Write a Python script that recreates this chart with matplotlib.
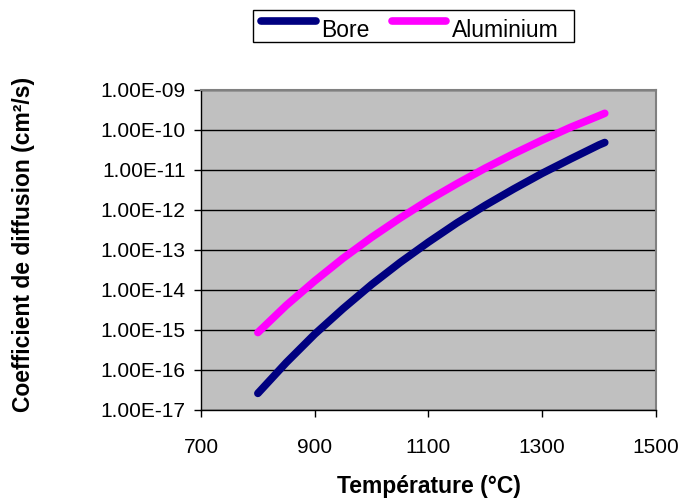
import matplotlib
matplotlib.use("Agg")
import matplotlib.pyplot as plt
from matplotlib.ticker import FixedLocator, FuncFormatter, NullLocator
from matplotlib.lines import Line2D
from matplotlib.patches import Rectangle

plt.rcParams['font.family'] = ['Liberation Sans', 'DejaVu Sans']

# temperatures (°C) and log10 of the diffusion coefficient (cm²/s)
temperature = [800, 850, 900, 950, 1000, 1050, 1100, 1150, 1200, 1250, 1300, 1350, 1400, 1410]
log_d_bore = [-16.59, -15.82, -15.11, -14.47, -13.87, -13.32, -12.81, -12.33,
              -11.89, -11.48, -11.09, -10.73, -10.38, -10.32]
log_d_alu = [-15.07, -14.39, -13.78, -13.21, -12.69, -12.21, -11.76, -11.35,
             -10.96, -10.60, -10.26, -9.94, -9.65, -9.59]

series_names = ["Bore", "Aluminium"]
series_colors = ["#000080", "#FF00FF"]
x_ticks = [700, 900, 1100, 1300, 1500]
y_ticks = [1e-17, 1e-16, 1e-15, 1e-14, 1e-13, 1e-12, 1e-11, 1e-10, 1e-9]

W, H = 680, 504
fig = plt.figure(figsize=(W / 100, H / 100), dpi=100)
ax = fig.add_axes([0.2956, 0.187, 0.669, 0.635])
ax.set_facecolor("#C0C0C0")

for logs, name, col in zip([log_d_bore, log_d_alu], series_names, series_colors):
    vals = [10 ** v for v in logs]
    ax.plot(temperature, vals, color=col, lw=5.5, solid_capstyle='round',
            solid_joinstyle='round', label=name, zorder=3)

ax.set_yscale("log")
ax.set_xlim(700, 1500)
ax.set_ylim(1e-17, 1e-9)
ax.xaxis.set_major_locator(FixedLocator(x_ticks))
ax.yaxis.set_major_locator(FixedLocator(y_ticks))
ax.yaxis.set_minor_locator(NullLocator())
ax.yaxis.set_major_formatter(FuncFormatter(lambda v, p: f"{v:.2E}"))
ax.grid(axis='y', color='black', lw=1, zorder=1)
ax.tick_params(axis='both', direction='out', length=5, width=1, labelsize=15, color='black')
ax.tick_params(axis='y', pad=6)
ax.tick_params(axis='x', pad=15)

for s in ['top', 'right']:
    ax.spines[s].set_color('#808080')
    ax.spines[s].set_linewidth(1.5)
for s in ['left', 'bottom']:
    ax.spines[s].set_color('black')
    ax.spines[s].set_linewidth(1)

ax.set_xlabel("Température (°C)", fontsize=16.5, fontweight='bold')
ax.set_ylabel("Coefficient de diffusion (cm²/s)", fontsize=16.5, fontweight='bold')
ax.xaxis.set_label_coords(0.5, -0.205)
ax.yaxis.set_label_coords(-0.365, 0.518)

# legend drawn by hand, Excel-like: handle sits higher than the text
def fx(px):
    return px / W

def fy(py):
    return 1 - py / H

fig.add_artist(Rectangle((fx(253), fy(42)), fx(574) - fx(253), (42 - 10) / H,
                         transform=fig.transFigure, facecolor='white',
                         edgecolor='black', lw=1))
handle_x = [(261, 316), (392, 446)]
text_x = [321, 452]
for (x0, x1), tx, name, col in zip(handle_x, text_x, series_names, series_colors):
    fig.add_artist(Line2D([fx(x0), fx(x1)], [fy(21), fy(21)], transform=fig.transFigure,
                          color=col, lw=5.5, solid_capstyle='round'))
    fig.text(fx(tx), fy(37), name, fontsize=16.5, ha='left', va='baseline')

fig.savefig("out.png", dpi=100)
